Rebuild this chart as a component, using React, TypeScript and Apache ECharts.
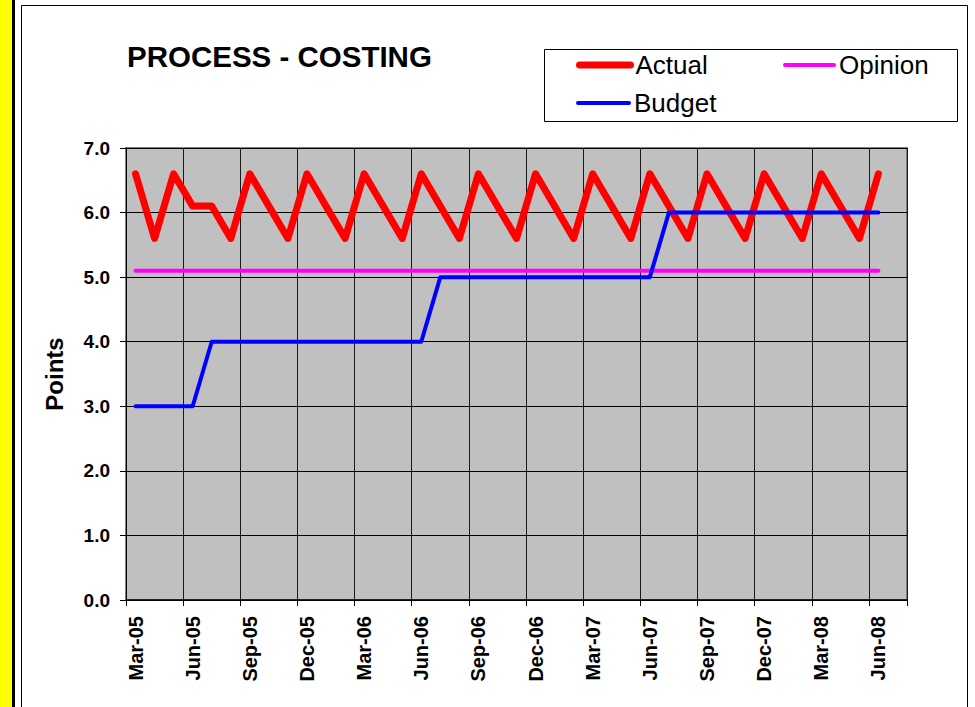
import React, { useEffect, useRef } from "react";
import * as echarts from "echarts";

const months = [
  "Mar-05", "Apr-05", "May-05", "Jun-05", "Jul-05", "Aug-05", "Sep-05", "Oct-05", "Nov-05", "Dec-05",
  "Jan-06", "Feb-06", "Mar-06", "Apr-06", "May-06", "Jun-06", "Jul-06", "Aug-06", "Sep-06", "Oct-06",
  "Nov-06", "Dec-06", "Jan-07", "Feb-07", "Mar-07", "Apr-07", "May-07", "Jun-07", "Jul-07", "Aug-07",
  "Sep-07", "Oct-07", "Nov-07", "Dec-07", "Jan-08", "Feb-08", "Mar-08", "Apr-08", "May-08", "Jun-08",
  "Jul-08",
];

const actual = [
  6.6, 5.6, 6.6, 6.1, 6.1, 5.6, 6.6, 6.1, 5.6, 6.6,
  6.1, 5.6, 6.6, 6.1, 5.6, 6.6, 6.1, 5.6, 6.6, 6.1,
  5.6, 6.6, 6.1, 5.6, 6.6, 6.1, 5.6, 6.6, 6.1, 5.6,
  6.6, 6.1, 5.6, 6.6, 6.1, 5.6, 6.6, 6.1, 5.6, 6.6,
];

const opinion = [
  5.1, 5.1, 5.1, 5.1, 5.1, 5.1, 5.1, 5.1, 5.1, 5.1,
  5.1, 5.1, 5.1, 5.1, 5.1, 5.1, 5.1, 5.1, 5.1, 5.1,
  5.1, 5.1, 5.1, 5.1, 5.1, 5.1, 5.1, 5.1, 5.1, 5.1,
  5.1, 5.1, 5.1, 5.1, 5.1, 5.1, 5.1, 5.1, 5.1, 5.1,
];

const budget = [
  3.0, 3.0, 3.0, 3.0, 4.0, 4.0, 4.0, 4.0, 4.0, 4.0,
  4.0, 4.0, 4.0, 4.0, 4.0, 4.0, 5.0, 5.0, 5.0, 5.0,
  5.0, 5.0, 5.0, 5.0, 5.0, 5.0, 5.0, 5.0, 6.0, 6.0,
  6.0, 6.0, 6.0, 6.0, 6.0, 6.0, 6.0, 6.0, 6.0, 6.0,
];

const FONT = "'Liberation Sans', Arial, Helvetica, sans-serif";

export default function App() {
  const ref = useRef<HTMLDivElement>(null);

  useEffect(() => {
    if (!ref.current) return;
    const chart = echarts.init(ref.current, null, { renderer: "svg" });

    const legendText = { fontSize: 26, fontFamily: FONT, color: "#000" };
    const hiddenSymbol = { opacity: 0, borderWidth: 0 };

    chart.setOption({
      animation: false,
      backgroundColor: "#fff",
      title: {
        text: "PROCESS - COSTING",
        left: 122,
        top: 36,
        textStyle: { fontSize: 29.5, fontWeight: "bold", fontFamily: FONT, color: "#000" },
      },
      legend: [
        {
          data: ["Actual"],
          left: 576,
          top: 52,
          itemWidth: 51,
          itemHeight: 8,
          padding: 0,
          lineStyle: { width: 7, cap: "round" },
          itemStyle: hiddenSymbol,
          textStyle: legendText,
          selectedMode: false,
        },
        {
          data: ["Opinion"],
          left: 783,
          top: 52,
          itemWidth: 49,
          itemHeight: 8,
          padding: 0,
          lineStyle: { width: 4, cap: "round" },
          itemStyle: hiddenSymbol,
          textStyle: legendText,
          selectedMode: false,
        },
        {
          data: ["Budget"],
          left: 576,
          top: 90,
          itemWidth: 51,
          itemHeight: 8,
          padding: 0,
          lineStyle: { width: 4, cap: "round" },
          itemStyle: hiddenSymbol,
          textStyle: legendText,
          selectedMode: false,
        },
      ],
      graphic: [
        { type: "rect", shape: { x: 0, y: 0, width: 12, height: 707 }, style: { fill: "#FFFF00" }, silent: true },
        { type: "rect", shape: { x: 12, y: 0, width: 3, height: 707 }, style: { fill: "#000" }, silent: true },
        {
          type: "rect",
          shape: { x: 21.5, y: 5.5, width: 946, height: 720 },
          style: { fill: "none", stroke: "#000", lineWidth: 1 },
          silent: true,
        },
        {
          type: "rect",
          shape: { x: 544.5, y: 49.5, width: 413, height: 72 },
          style: { fill: "none", stroke: "#000", lineWidth: 1 },
          silent: true,
        },
      ],
      grid: {
        left: 126,
        right: 68,
        top: 148,
        bottom: 107,
        show: true,
        backgroundColor: "#C0C0C0",
        borderColor: "#808080",
        borderWidth: 2,
      },
      xAxis: {
        type: "category",
        data: months,
        boundaryGap: true,
        axisLine: { show: true, lineStyle: { color: "#000", width: 1.5 } },
        axisTick: { show: true, interval: 2, length: 6, lineStyle: { color: "#000" } },
        axisLabel: {
          interval: 2,
          rotate: 90,
          margin: 16,
          fontSize: 20,
          fontWeight: "bold",
          fontFamily: FONT,
          color: "#000",
        },
        splitLine: { show: true, interval: 2, lineStyle: { color: "#1a1a1a", width: 1 } },
      },
      yAxis: {
        type: "value",
        min: 0,
        max: 7,
        interval: 1,
        name: "Points",
        nameLocation: "middle",
        nameRotate: 90,
        nameGap: 60,
        nameTextStyle: { fontSize: 24, fontWeight: "bold", fontFamily: FONT, color: "#000" },
        axisLine: { show: true, lineStyle: { color: "#000", width: 1 } },
        axisTick: { show: true, length: 6, lineStyle: { color: "#000" } },
        axisLabel: {
          margin: 16,
          fontSize: 19,
          fontWeight: "bold",
          fontFamily: FONT,
          color: "#000",
          formatter: (v: number) => v.toFixed(1),
        },
        splitLine: { show: true, lineStyle: { color: "#000", width: 1 } },
      },
      series: [
        {
          name: "Actual",
          type: "line",
          data: actual,
          symbol: "none",
          color: "#FF0000",
          lineStyle: { width: 7, color: "#FF0000", cap: "round", join: "round" },
        },
        {
          name: "Opinion",
          type: "line",
          data: opinion,
          symbol: "none",
          color: "#FF00FF",
          lineStyle: { width: 4, color: "#FF00FF", cap: "round", join: "round" },
        },
        {
          name: "Budget",
          type: "line",
          data: budget,
          symbol: "none",
          color: "#0000FF",
          lineStyle: { width: 4, color: "#0000FF", cap: "round", join: "round" },
        },
      ],
    });

    return () => chart.dispose();
  }, []);

  return (
    <div
      ref={ref}
      style={{ position: "fixed", left: 0, top: 0, width: 975, height: 707, background: "#fff" }}
    />
  );
}
